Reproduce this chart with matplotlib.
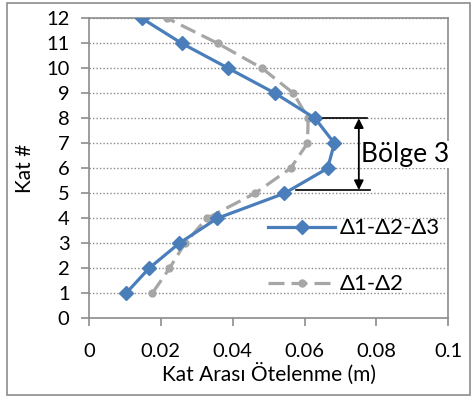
import matplotlib
matplotlib.use("Agg")
import matplotlib.pyplot as plt
from matplotlib.patches import Rectangle

plt.rcParams['font.family'] = ['Lato', 'DejaVu Sans']

floors = [1, 2, 3, 4, 5, 6, 7, 8, 9, 10, 11, 12]
drift_123 = [0.0103, 0.0167, 0.0251, 0.0357, 0.0544, 0.0664, 0.0683, 0.0629, 0.0518, 0.0388, 0.0258, 0.0147]
drift_12 = [0.0176, 0.0224, 0.0267, 0.0328, 0.0462, 0.0561, 0.0608, 0.0610, 0.0569, 0.0482, 0.0358, 0.0218]
xticks = [0, 0.02, 0.04, 0.06, 0.08, 0.1]
xtick_labels = ['0', '0.02', '0.04', '0.06', '0.08', '0.1']
yticks = list(range(0, 13))

blue = '#4A7EBB'
gray = '#A6A6A6'
spine_c = '#8c8c8c'

fig = plt.figure(figsize=(4.74, 3.98), dpi=100)
fig.patches.append(Rectangle((7/474, 3/398), 463/474, 392/398, transform=fig.transFigure,
                             fill=False, edgecolor='#8c8c8c', linewidth=1.2))
ax = fig.add_axes([89/474, 1-318.3/398, (448.3-89)/474, (318.3-18.3)/398])

ax.plot(drift_123, floors, color=blue, lw=2.3, marker='D', markersize=7,
        label='Δ1-Δ2-Δ3', zorder=4)
ax.plot(drift_12, floors, color=gray, lw=2.3, ls=(0, (5, 2.2)), marker='o', markersize=5,
        label='Δ1-Δ2', zorder=3)

ax.set_xlim(0, 0.1)
ax.set_ylim(0, 12)
ax.set_xticks(xticks)
ax.set_xticklabels(xtick_labels)
ax.set_yticks(yticks)
ax.yaxis.grid(True, color='#8a8a8a', ls=(0, (1, 1.5)), lw=1.0)
ax.set_axisbelow(True)
for s in ax.spines.values():
    s.set_color(spine_c)
    s.set_linewidth(1.2)
ax.tick_params(axis='both', direction='out', length=6, color=spine_c, width=1.2,
               labelsize=14.5, colors='black')
ax.tick_params(axis='y', pad=8)
ax.tick_params(axis='x', pad=12)
ax.set_xlabel('Kat Arası Ötelenme (m)', fontsize=15, labelpad=2)
ax.set_ylabel('Kat #', fontsize=15, labelpad=8)

# Bölge 3 annotation
ax.plot([0.0651, 0.0775], [8, 8], color='black', lw=1.2, clip_on=False, zorder=5)
ax.plot([0.0575, 0.0782], [5.13, 5.13], color='black', lw=1.2, clip_on=False, zorder=5)
ax.annotate('', xy=(0.0751, 8), xytext=(0.0751, 5.13),
            arrowprops=dict(arrowstyle='<|-|>', color='black', lw=1.3,
                            mutation_scale=14, shrinkA=0, shrinkB=0), zorder=5)
ax.text(0.0758, 6.55, 'Bölge 3', fontsize=19, va='center', ha='left', zorder=6,
        bbox=dict(facecolor='white', edgecolor='none', pad=0.5))

leg = ax.legend(loc='lower right', bbox_to_anchor=(1.0, 0.05), frameon=False,
                fontsize=16, handlelength=3.0, labelspacing=1.62, handletextpad=0.2,
                borderaxespad=0.0)

fig.savefig('out.png', dpi=100)
